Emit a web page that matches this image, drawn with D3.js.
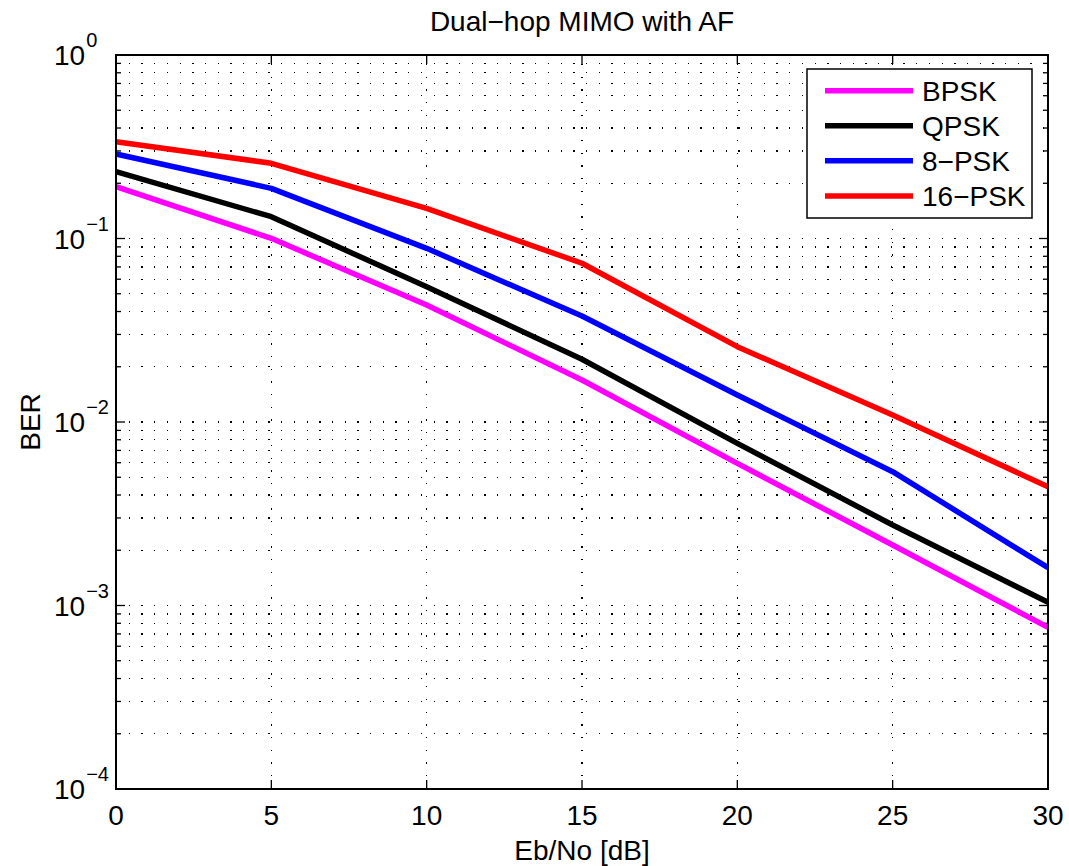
<!DOCTYPE html>
<html>
<head>
<meta charset="utf-8">
<script src="https://cdn.jsdelivr.net/npm/d3@7"></script>
<style>
html,body{margin:0;padding:0;background:#fff;}
svg{display:block;}
text{font-family:"Liberation Sans",Arial,Helvetica,sans-serif;fill:#000;}
</style>
</head>
<body>
<svg id="chart" width="1069" height="866"></svg>
<script>
const snr = [0, 5, 10, 15, 20, 25, 30];
const seriesNames = ["BPSK", "QPSK", "8\u2212PSK", "16\u2212PSK"];
const seriesColors = ["#ff00ff", "#000000", "#0000ff", "#ff0000"];
const berBPSK  = [0.1915, 0.1002, 0.0434, 0.01694, 0.00595, 0.002137, 0.00076];
const berQPSK  = [0.2312, 0.1315, 0.0546, 0.02197, 0.00765, 0.002746, 0.001041];
const ber8PSK  = [0.2887, 0.1877, 0.0884, 0.0378, 0.01403, 0.00536, 0.001607];
const ber16PSK = [0.337, 0.257, 0.146, 0.0733, 0.02574, 0.01092, 0.00444];
const xTicks = [0, 5, 10, 15, 20, 25, 30];
const yExponents = [0, -1, -2, -3, -4];
const titleText = "Dual\u2212hop MIMO with AF";
const xLabel = "Eb/No [dB]";
const yLabel = "BER";

const allSeries = [berBPSK, berQPSK, ber8PSK, ber16PSK];

const svg = d3.select("#chart");
const L = 116, R = 1048, T = 55, B = 789;
const x = d3.scaleLinear().domain([0, 30]).range([L, R]);
const y = d3.scaleLog().domain([1e-4, 1]).range([B, T]);

const yGridVals = [];
for (let e = -4; e < 0; e++) for (let k = 1; k <= 9; k++) yGridVals.push(k * Math.pow(10, e));
yGridVals.push(1);

const grid = svg.append("g");
grid.selectAll("line.hg").data(yGridVals.filter(v => v > 1e-4 && v < 1)).enter()
  .append("line").attr("x1", L).attr("x2", R)
  .attr("y1", d => y(d)).attr("y2", d => y(d))
  .attr("stroke", "#000").attr("stroke-width", 1.3)
  .attr("stroke-dasharray", "1.3,11.4").attr("shape-rendering", "crispEdges");
grid.selectAll("line.vg").data(xTicks.filter(v => v > 0 && v < 30)).enter()
  .append("line").attr("y1", B).attr("y2", T)
  .attr("x1", d => x(d)).attr("x2", d => x(d))
  .attr("stroke", "#000").attr("stroke-width", 1.3)
  .attr("stroke-dasharray", "1.3,11.4").attr("shape-rendering", "crispEdges");

const ticks = svg.append("g").attr("stroke", "#000").attr("stroke-width", 1.3);
yGridVals.forEach(v => {
  const major = Math.abs(Math.log10(v) - Math.round(Math.log10(v))) < 1e-9;
  const len = major ? 9 : 5;
  ticks.append("line").attr("x1", L).attr("x2", L + len).attr("y1", y(v)).attr("y2", y(v));
  ticks.append("line").attr("x1", R).attr("x2", R - len).attr("y1", y(v)).attr("y2", y(v));
});
xTicks.forEach(v => {
  ticks.append("line").attr("x1", x(v)).attr("x2", x(v)).attr("y1", B).attr("y2", B - 9);
  ticks.append("line").attr("x1", x(v)).attr("x2", x(v)).attr("y1", T).attr("y2", T + 9);
});

const line = d3.line().x((d, i) => x(snr[i])).y(d => y(d));
svg.append("g").selectAll("path").data(allSeries).enter().append("path")
  .attr("d", d => line(d))
  .attr("fill", "none")
  .attr("stroke", (d, i) => seriesColors[i])
  .attr("stroke-width", 5.5)
  .attr("stroke-linejoin", "round");

svg.append("rect").attr("x", L).attr("y", T).attr("width", R - L).attr("height", B - T)
  .attr("fill", "none").attr("stroke", "#000").attr("stroke-width", 2);

svg.append("g").selectAll("text").data(xTicks).enter().append("text")
  .attr("x", d => x(d)).attr("y", 825).attr("text-anchor", "middle")
  .attr("font-size", 28).text(d => d);

const yl = svg.append("g").selectAll("text").data(yExponents).enter().append("text")
  .attr("x", 54).attr("y", d => y(Math.pow(10, d)) + 10)
  .attr("text-anchor", "start").attr("font-size", 28);
yl.append("tspan").text("10");
yl.append("tspan").attr("font-size", 20).attr("dy", -18).attr("dx", 1)
  .text(d => d === 0 ? "0" : "\u2212" + Math.abs(d));

svg.append("text").attr("x", (L + R) / 2).attr("y", 31).attr("text-anchor", "middle")
  .attr("font-size", 28).text(titleText);
svg.append("text").attr("x", (L + R) / 2).attr("y", 860).attr("text-anchor", "middle")
  .attr("font-size", 28).text(xLabel);
svg.append("text").attr("transform", `translate(40,${(T + B) / 2}) rotate(-90)`)
  .attr("text-anchor", "middle").attr("font-size", 28).text(yLabel);

const lg = svg.append("g");
lg.append("rect").attr("x", 807).attr("y", 69).attr("width", 225).attr("height", 149)
  .attr("fill", "#fff").attr("stroke", "#000").attr("stroke-width", 1.5);
const rows = [90.7, 125.7, 160.7, 196];
seriesNames.forEach((n, i) => {
  lg.append("line").attr("x1", 825).attr("x2", 913).attr("y1", rows[i]).attr("y2", rows[i])
    .attr("stroke", seriesColors[i]).attr("stroke-width", 5.5);
  lg.append("text").attr("x", 922).attr("y", rows[i] + 10).attr("font-size", 28).text(n);
});
</script>
</body>
</html>
